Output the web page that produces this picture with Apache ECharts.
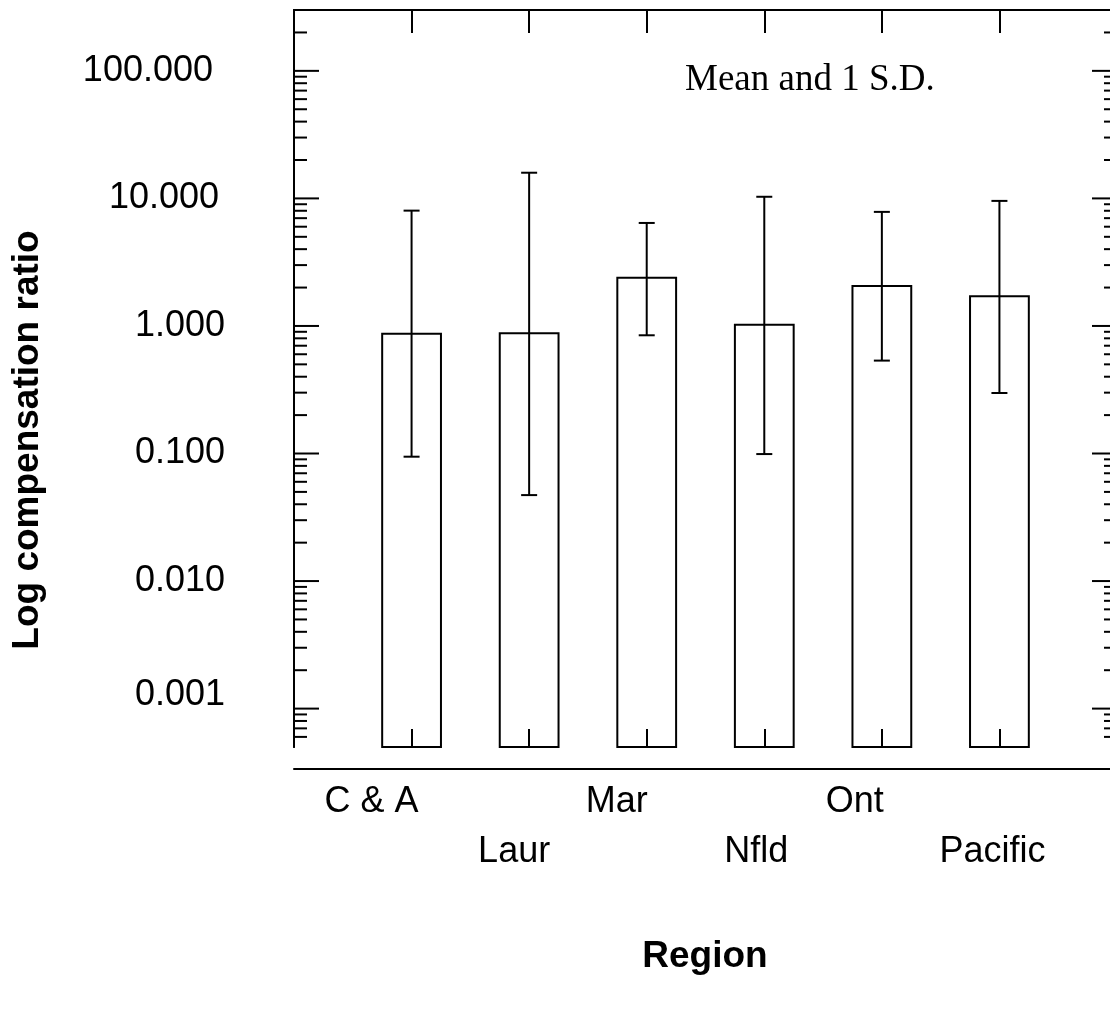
<!DOCTYPE html>
<html><head><meta charset="utf-8">
<script src="https://cdn.jsdelivr.net/npm/echarts@6/dist/echarts.min.js"></script>
<style>html,body{margin:0;padding:0;background:#fff}#c{width:1110px;height:1034px}</style>
</head><body><div id="c"></div>
<script>
const categories = ['C & A', 'Laur', 'Mar', 'Nfld', 'Ont', 'Pacific'];
const meanValues = [0.87, 0.876, 2.39, 1.02, 2.06, 1.71];
const sdLower = [0.0944, 0.0472, 0.845, 0.099, 0.535, 0.298];
const sdUpper = [8.02, 15.9, 6.42, 10.3, 7.84, 9.56];
const yMin = 0.0005, yMax = 300;
const decades = [0.0001, 0.001, 0.01, 0.1, 1, 10, 100];
const minorMantissas = [2, 3, 4, 5, 6, 7, 8, 9];

// layout-only: horizontal nudge (px) of each category label
const labelNudge = [-40, -15, -30, -8, -27, -7];

const FONT = "'Liberation Sans', Arial, Helvetica, sans-serif";
const barData = categories.map((c, i) => [i + 1, meanValues[i]]);
const errData = categories.map((c, i) => [i + 1, sdLower[i], sdUpper[i]]);
const majorTicks = decades.filter(v => v >= yMin && v <= yMax);
const minorTicks = [];
decades.forEach(d => minorMantissas.forEach(m => { const v = d * m; if (v > yMin && v < yMax) minorTicks.push(v); }));

const catRich = {};
labelNudge.forEach((d, i) => {
  catRich['c' + i] = { fontSize: 36, fontFamily: FONT, color: '#000', lineHeight: 50,
    padding: d < 0 ? [0, -2 * d, 0, 0] : [0, 0, 0, 2 * d] };
});

function tickSeries(values, len) {
  return {
    type: 'custom', xAxisIndex: 0, yAxisIndex: 0, silent: true, clip: false, z: 5,
    data: values.map(v => [0, v]),
    renderItem(params, api) {
      const v = api.value(1);
      const l = api.coord([0, v]);
      const r = api.coord([7, v]);
      const st = { stroke: '#000', lineWidth: 2 };
      return { type: 'group', children: [
        { type: 'line', shape: { x1: l[0], y1: l[1], x2: l[0] + len, y2: l[1] }, style: st },
        { type: 'line', shape: { x1: r[0], y1: r[1], x2: r[0] - len, y2: r[1] }, style: st }
      ]};
    }
  };
}

function fmtY(v) {
  const lg = Math.log10(v);
  if (Math.abs(lg - Math.round(lg)) > 1e-6) return '';
  const s = v.toFixed(3);
  if (s === '100.000') return '{p12|' + s + '}';
  if (s === '10.000') return '{p6|' + s + '}';
  if (s === '0.001') return '{lift|' + s + '}';
  return s;
}

const chart = echarts.init(document.getElementById('c'), null, { renderer: 'canvas' });
chart.setOption({
  backgroundColor: '#fff',
  animation: false,
  grid: { left: 294, top: 10, width: 823, height: 737, containLabel: false, outerBoundsMode: 'none' },
  xAxis: [
    { type: 'value', position: 'top', min: 0, max: 7, interval: 1,
      axisLine: { show: true, lineStyle: { color: '#000', width: 2 } },
      axisTick: { show: true, inside: true, length: 23, lineStyle: { color: '#000', width: 2 } },
      axisLabel: { show: false }, splitLine: { show: false } },
    { type: 'value', position: 'bottom', offset: 22, min: 0, max: 7, interval: 1,
      axisLine: { show: true, lineStyle: { color: '#000', width: 2 } },
      axisTick: { show: false }, splitLine: { show: false },
      axisLabel: { show: true, margin: 8, color: '#000', fontSize: 36, fontFamily: FONT, lineHeight: 50,
        rich: catRich,
        formatter: v => { const i = Math.round(v) - 1; if (i < 0 || i >= categories.length) return ''; const t = '{c' + i + '|' + categories[i] + '}'; return i % 2 ? '\n' + t : t; } } },
    { type: 'value', position: 'bottom', offset: 0, min: 0, max: 7, interval: 1, z: 10,
      axisLine: { show: false },
      axisTick: { show: true, inside: true, length: 18, lineStyle: { color: '#000', width: 2 } },
      axisLabel: { show: false }, splitLine: { show: false } }
  ],
  yAxis: [
    { type: 'log', logBase: 10, min: yMin, max: yMax, position: 'left',
      axisLine: { show: true, lineStyle: { color: '#000', width: 2 } },
      axisTick: { show: false }, splitLine: { show: false }, minorTick: { show: false },
      axisLabel: { show: true, margin: 69, color: '#000', fontSize: 36, fontFamily: FONT, formatter: fmtY,
        showMinLabel: true, showMaxLabel: true,
        rich: { p12: { fontSize: 36, fontFamily: FONT, color: '#000', padding: [0, 12, 0, 0] },
                p6: { fontSize: 36, fontFamily: FONT, color: '#000', padding: [0, 6, 0, 0] },
                lift: { fontSize: 36, fontFamily: FONT, color: '#000', padding: [0, 0, 28, 0] } } } },
    { type: 'log', logBase: 10, min: yMin, max: yMax, position: 'right',
      axisLine: { show: true, lineStyle: { color: '#000', width: 2 } },
      axisTick: { show: false }, axisLabel: { show: false }, splitLine: { show: false } }
  ],
  graphic: [
    { type: 'text', left: 685, top: 62, style: { text: 'Mean and 1 S.D.', font: "37px 'Liberation Serif', 'Times New Roman', serif", fill: '#000' } },
    { type: 'text', x: 28, y: 440, rotation: Math.PI / 2, style: { text: 'Log compensation ratio', font: "bold 37px " + FONT, fill: '#000', align: 'center', verticalAlign: 'middle' } },
    { type: 'text', x: 705, y: 957, style: { text: 'Region', font: "bold 37px " + FONT, fill: '#000', align: 'center', verticalAlign: 'middle' } }
  ],
  series: [
    { type: 'custom', name: 'Mean', xAxisIndex: 0, yAxisIndex: 0, z: 3, data: barData,
      renderItem(params, api) {
        const x = api.value(0), v = api.value(1);
        const top = api.coord([x, v]);
        const base = api.coord([x, yMin]);
        const w = api.coord([x + 0.25, v])[0] - api.coord([x - 0.25, v])[0];
        return { type: 'rect', shape: { x: top[0] - w / 2, y: top[1], width: w, height: base[1] - top[1] },
          style: { fill: 'none', stroke: '#000', lineWidth: 2 } };
      } },
    { type: 'custom', name: '1 S.D.', xAxisIndex: 0, yAxisIndex: 0, z: 4, data: errData,
      renderItem(params, api) {
        const x = api.value(0);
        const lo = api.coord([x, api.value(1)]);
        const hi = api.coord([x, api.value(2)]);
        const st = { stroke: '#000', lineWidth: 2 };
        return { type: 'group', children: [
          { type: 'line', shape: { x1: lo[0], y1: lo[1], x2: hi[0], y2: hi[1] }, style: st },
          { type: 'line', shape: { x1: lo[0] - 8, y1: lo[1], x2: lo[0] + 8, y2: lo[1] }, style: st },
          { type: 'line', shape: { x1: hi[0] - 8, y1: hi[1], x2: hi[0] + 8, y2: hi[1] }, style: st }
        ]};
      } },
    tickSeries(majorTicks, 25),
    tickSeries(minorTicks, 13)
  ]
});
</script></body></html>
